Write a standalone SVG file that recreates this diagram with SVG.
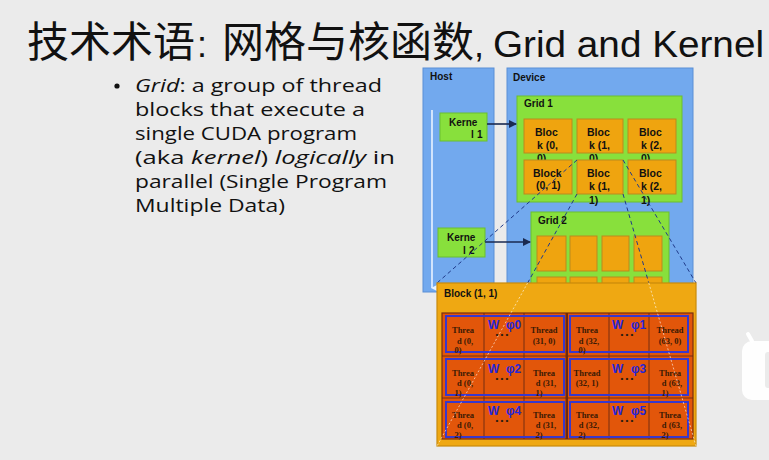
<svg xmlns="http://www.w3.org/2000/svg" width="769" height="460" viewBox="0 0 769 460">
<defs>
<style>
.bg{fill:#ebebeb}
.panel{fill:#72a9ee;stroke:#5b8fd6;stroke-width:1}
.grid{fill:#88e03c;stroke:#6bbf2e;stroke-width:1}
.blk{fill:#efa40f;stroke:#b98a1e;stroke-width:1}
.lbl{font-family:"Liberation Sans",Arial,sans-serif;font-weight:bold;font-size:10px;fill:#111}
.blt{font-family:"Liberation Sans",Arial,sans-serif;font-weight:bold;font-size:10.5px;fill:#111}
.th{font-family:"Liberation Serif","Times New Roman",serif;font-weight:bold;font-size:8.5px;fill:#3a1a05;text-anchor:middle}
.warp{font-family:"Liberation Sans",Arial,sans-serif;font-weight:bold;font-size:12px;fill:#2626d6}
.dots{font-family:"Liberation Sans",Arial,sans-serif;font-weight:bold;font-size:8px;fill:#2a1a10;text-anchor:middle}
.wrect{fill:none;stroke:#3838cc;stroke-width:2}
.arrow{stroke:#1a2a50;stroke-width:1.6;fill:none;marker-end:url(#ah)}
.dash{stroke:#1f3a8a;stroke-width:1;stroke-dasharray:4 3;fill:none}
.dashw{stroke:#ffffff;stroke-opacity:0.6;stroke-width:1;stroke-dasharray:2 2;fill:none}
.body{font-family:"Open Sans","Liberation Sans",sans-serif;font-size:18.5px;fill:#111}
</style>
<marker id="ah" markerWidth="8" markerHeight="8" refX="7" refY="4" orient="auto" markerUnits="userSpaceOnUse">
<path d="M0,0 L8,4 L0,8 z" fill="#1a2a50"/>
</marker>
<marker id="ahw" markerWidth="8" markerHeight="8" refX="4" refY="7" orient="auto" markerUnits="userSpaceOnUse">
<path d="M0,0 L4,8 L8,0 z" fill="#eaf3ff"/>
</marker>
</defs>
<rect class="bg" x="0" y="0" width="769" height="460"/>

<g id="title">
<text x="27" y="57" font-family="'Noto Sans CJK SC','Liberation Sans',sans-serif" font-size="42" fill="#111">技术术语</text>
<text x="197" y="57" font-family="'Liberation Sans',sans-serif" font-size="36" fill="#111">:</text>
<text x="222" y="57" font-family="'Noto Sans CJK SC','Liberation Sans',sans-serif" font-size="42" fill="#111">网格与核函数</text>
<text x="474" y="57" font-family="'Liberation Sans',sans-serif" font-size="36" fill="#111">,</text>
<text x="493" y="57" font-family="'Liberation Sans',sans-serif" font-size="36" fill="#111" textLength="271" lengthAdjust="spacingAndGlyphs">Grid and Kernel</text>
</g>

<g id="bullet">
<circle cx="117" cy="86" r="2.6" fill="#111"/>
<text class="body" x="135" y="92" textLength="247" lengthAdjust="spacingAndGlyphs"><tspan font-style="italic">Grid</tspan>: a group of thread</text>
<text class="body" x="135" y="116" textLength="230" lengthAdjust="spacingAndGlyphs">blocks that execute a</text>
<text class="body" x="135" y="140" textLength="222" lengthAdjust="spacingAndGlyphs">single CUDA program</text>
<text class="body" x="135" y="164" textLength="260" lengthAdjust="spacingAndGlyphs">(aka  <tspan font-style="italic">kernel</tspan>) <tspan font-style="italic">logically</tspan> in</text>
<text class="body" x="135" y="188" textLength="252" lengthAdjust="spacingAndGlyphs">parallel (Single Program</text>
<text class="body" x="135" y="212" textLength="150" lengthAdjust="spacingAndGlyphs">Multiple Data)</text>
</g>

<g id="host">
<rect class="panel" x="423" y="68" width="71" height="224"/>
<text class="lbl" x="430" y="80">Host</text>
</g>
<g id="device">
<rect class="panel" x="507" y="68" width="186" height="224"/>
<text class="lbl" x="513" y="81">Device</text>
</g>

<g id="kernel1">
<rect class="grid" x="440" y="113" width="47" height="28"/>
<text class="lbl" x="449" y="126">Kerne</text>
<text class="lbl" x="471" y="138">l</text><text class="lbl" x="477" y="138">1</text>
</g>
<g id="kernel2">
<rect class="grid" x="438" y="228" width="47" height="29"/>
<text class="lbl" x="447" y="241">Kerne</text>
<text class="lbl" x="463" y="254">l</text><text class="lbl" x="469" y="254">2</text>
</g>

<g id="grid1">
<rect class="grid" x="517" y="96" width="165" height="106"/>
<text class="lbl" x="524" y="107">Grid 1</text>
<rect class="blk" x="524" y="119" width="48" height="34"/>
<text class="blt" x="535" y="136">Bloc</text><text class="blt" x="537" y="149">k  (0,</text><text class="blt" x="537" y="162">0)</text>
<rect class="blk" x="577" y="119" width="46" height="34"/>
<text class="blt" x="587" y="136">Bloc</text><text class="blt" x="589" y="149">k  (1,</text><text class="blt" x="589" y="162">0)</text>
<rect class="blk" x="628" y="119" width="48" height="34"/>
<text class="blt" x="639" y="136">Bloc</text><text class="blt" x="641" y="149">k  (2,</text><text class="blt" x="641" y="162">0)</text>
<rect class="blk" x="524" y="160" width="48" height="34"/>
<text class="blt" x="533" y="177">Block</text><text class="blt" x="536" y="189">(0, 1)</text>
<rect class="blk" x="577" y="160" width="46" height="34"/>
<text class="blt" x="587" y="177">Bloc</text><text class="blt" x="589" y="190">k  (1,</text><text class="blt" x="589" y="204">1)</text>
<rect class="blk" x="628" y="160" width="48" height="34"/>
<text class="blt" x="639" y="177">Bloc</text><text class="blt" x="641" y="190">k  (2,</text><text class="blt" x="641" y="204">1)</text>
</g>

<g id="grid2">
<rect class="grid" x="531" y="212" width="138" height="90"/>
<text class="lbl" x="538" y="224">Grid 2</text>
<rect class="blk" x="537" y="236" width="29" height="35"/>
<rect class="blk" x="570" y="236" width="27" height="35"/>
<rect class="blk" x="602" y="236" width="27" height="35"/>
<rect class="blk" x="634" y="236" width="28" height="35"/>
<rect class="blk" x="537" y="277" width="29" height="20"/>
<rect class="blk" x="570" y="277" width="27" height="20"/>
<rect class="blk" x="602" y="277" width="27" height="20"/>
<rect class="blk" x="634" y="277" width="28" height="20"/>
</g>

<g id="connectors">
<line x1="432" y1="110" x2="432" y2="288" stroke="#eaf3ff" stroke-width="1.6" marker-end="url(#ahw)"/>
<line class="arrow" x1="487" y1="124" x2="516" y2="124"/>
<line class="arrow" x1="485" y1="242" x2="530" y2="242"/>
<line class="dash" x1="577" y1="160" x2="437" y2="283"/>
<line class="dash" x1="623" y1="160" x2="696" y2="283"/>
<line class="dash" x1="577" y1="194" x2="527.6" y2="283"/>
<line class="dash" x1="623" y1="194" x2="648.8" y2="283"/>
</g>

<g id="block11">
<rect x="437" y="283" width="259" height="163" fill="#efa812" stroke="#c98a0a" stroke-width="1.2"/>
<text class="lbl" x="444" y="297">Block (1, 1)</text>
<rect x="442" y="313" width="251" height="126" fill="#e2560a" stroke="#7a3010" stroke-width="1.2"/>
<g id="cells">
<path d="M484,313V439M524,313V439M566,313V439M609,313V439M649,313V439M442,356H693M442,398H693" stroke="#6a2a12" stroke-width="0.9" fill="none"/>
<line x1="567" y1="313" x2="567" y2="439" stroke="#6a2a12" stroke-width="2"/>
</g>
<g id="warps">
<rect class="wrect" x="446" y="316" width="118" height="36"/>
<rect class="wrect" x="570" y="316" width="118" height="36"/>
<rect class="wrect" x="446" y="359" width="118" height="36"/>
<rect class="wrect" x="570" y="359" width="118" height="36"/>
<rect class="wrect" x="446" y="402" width="118" height="35"/>
<rect class="wrect" x="570" y="402" width="118" height="35"/>
</g>
<g id="warplabels">
<text class="warp" x="488" y="329">W</text><text class="warp" x="506" y="329">φ0</text><text class="dots" x="502" y="337">• • •</text>
<text class="warp" x="612" y="329">W</text><text class="warp" x="631" y="329">φ1</text><text class="dots" x="627" y="337">• • •</text>
<text class="warp" x="488" y="373">W</text><text class="warp" x="506" y="373">φ2</text><text class="dots" x="502" y="381">• • •</text>
<text class="warp" x="612" y="373">W</text><text class="warp" x="631" y="373">φ3</text><text class="dots" x="627" y="381">• • •</text>
<text class="warp" x="488" y="415">W</text><text class="warp" x="506" y="415">φ4</text><text class="dots" x="502" y="423">• • •</text>
<text class="warp" x="612" y="415">W</text><text class="warp" x="631" y="415">φ5</text><text class="dots" x="627" y="423">• • •</text>
</g>
<g id="threads">
<text class="th" x="463" y="333">Threa</text><text class="th" x="465" y="344">d  (0,</text><text class="th" x="458" y="353">0)</text>
<text class="th" x="544" y="333">Thread</text><text class="th" x="544" y="344">(31, 0)</text>
<text class="th" x="587" y="333">Threa</text><text class="th" x="589" y="344">d  (32,</text><text class="th" x="582" y="353">0)</text>
<text class="th" x="670" y="333">Thread</text><text class="th" x="670" y="344">(63, 0)</text>

<text class="th" x="463" y="376">Threa</text><text class="th" x="465" y="386">d  (0,</text><text class="th" x="458" y="396">1)</text>
<text class="th" x="544" y="376">Threa</text><text class="th" x="546" y="386">d  (31,</text><text class="th" x="539" y="396">1)</text>
<text class="th" x="587" y="376">Thread</text><text class="th" x="587" y="386">(32, 1)</text>
<text class="th" x="670" y="376">Threa</text><text class="th" x="672" y="386">d  (63,</text><text class="th" x="665" y="396">1)</text>

<text class="th" x="463" y="418">Threa</text><text class="th" x="465" y="428">d  (0,</text><text class="th" x="458" y="438">2)</text>
<text class="th" x="544" y="418">Threa</text><text class="th" x="546" y="428">d  (31,</text><text class="th" x="539" y="438">2)</text>
<text class="th" x="587" y="418">Threa</text><text class="th" x="589" y="428">d  (32,</text><text class="th" x="582" y="438">2)</text>
<text class="th" x="670" y="418">Threa</text><text class="th" x="672" y="428">d  (63,</text><text class="th" x="665" y="438">2)</text>
</g>
<line class="dashw" x1="527.6" y1="283" x2="437" y2="446"/>
<line class="dashw" x1="648.8" y1="283" x2="696" y2="446"/>
</g>

<g id="watermark">
<rect x="742" y="341" width="44" height="59" rx="10" fill="#ffffff" opacity="0.95"/>
<line x1="752" y1="341" x2="748" y2="334" stroke="#ffffff" stroke-width="4" stroke-linecap="round"/>
<rect x="765" y="352" width="10" height="36" rx="3" fill="#ebebeb"/>
</g>
</svg>
